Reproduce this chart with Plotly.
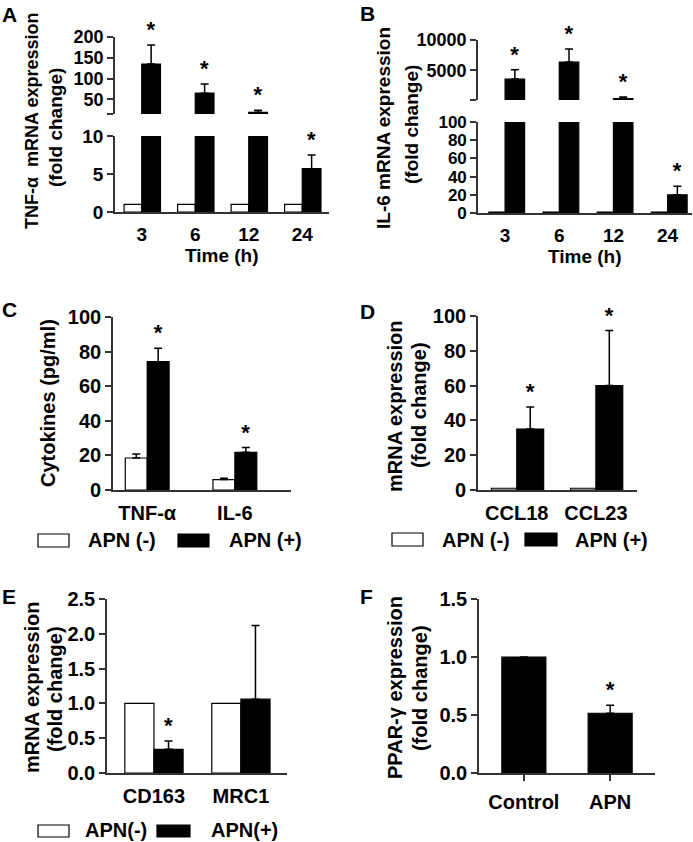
import plotly.graph_objects as go

# ---------------- data ----------------
a_times = ['3', '6', '12', '24']
a_ctrl = [1, 1, 1, 1]
a_apn = [135, 65, 19, 5.7]
a_apn_err = [46, 22, 5, 1.8]
a_sig = [True, True, True, True]

b_times = ['3', '6', '12', '24']
b_ctrl = [1, 1, 1, 1]
b_apn = [3550, 6350, 350, 20]
b_apn_err = [1550, 2150, 250, 9.5]
b_sig = [True, True, True, True]

c_cats = ['TNF-α', 'IL-6']
c_ctrl = [18.5, 6.0]
c_ctrl_err = [2.3, 0.8]
c_apn = [74.2, 21.8]
c_apn_err = [7.8, 2.7]
c_sig = [True, True]

d_cats = ['CCL18', 'CCL23']
d_ctrl = [1, 1]
d_apn = [35, 60]
d_apn_err = [12.7, 31.6]
d_sig = [True, True]

e_cats = ['CD163', 'MRC1']
e_ctrl = [1, 1]
e_apn = [0.34, 1.06]
e_apn_err = [0.12, 1.06]
e_sig = [True, False]

f_cats = ['Control', 'APN']
f_vals = [1.0, 0.515]
f_err = [0, 0.07]
f_sig = [False, True]

# ---------------- helpers ----------------
W, H = 693, 842
FONT = 'Liberation Sans, Arial, sans-serif'
AXC = '#333333'


def xd(a, b):
    return [a / W, b / W]


def yd(top, bottom):
    return [1 - bottom / H, 1 - top / H]


def px(x):
    return x / W


def py(y):
    return 1 - y / H


def bar(x, y, xa, ya, width, offset, color, err=None, floor=None):
    """Bar trace; with `floor`, bars that stay below that value are left out (upper broken segment)."""
    yy = list(y)
    ee = list(err) if err is not None else None
    if floor is not None:
        yy = [v if v >= floor else None for v in y]
        if ee is not None:
            ee = [e if v is not None else 0 for e, v in zip(ee, yy)]
    ey = dict(visible=False)
    if ee is not None:
        ey = dict(type='data', array=ee, arrayminus=[0] * len(ee), symmetric=False,
                  color='black', thickness=1.5, width=4, visible=True)
    return go.Bar(x=x, y=yy, xaxis=xa, yaxis=ya, width=width, offset=offset,
                  marker=dict(color=color, line=dict(color='black', width=1.2)),
                  error_y=ey, showlegend=False, hoverinfo='skip')


def stars(x, tops, sig, xa, ya, width, offset, keep=lambda v: True, size=22):
    """Transparent bars reaching the error-bar top, carrying the '*' label above them."""
    ys = [t if (s and keep(t)) else None for t, s in zip(tops, sig)]
    return go.Bar(x=x, y=ys, xaxis=xa, yaxis=ya, width=width, offset=offset,
                  marker=dict(color='rgba(0,0,0,0)', line=dict(width=0)),
                  text=['*' if v is not None else '' for v in ys],
                  textposition='outside', cliponaxis=False, constraintext='none',
                  textfont=dict(family=FONT, size=size, color='black', weight='bold'),
                  showlegend=False, hoverinfo='skip')


def tops(v, e):
    return [a + b for a, b in zip(v, e)]


fig = go.Figure()

# Panel A (broken axis)
A_UP_LO = 15
fig.add_trace(bar(a_times, a_ctrl, 'x', 'y', 0.33, -0.33, 'white'))
fig.add_trace(bar(a_times, a_apn, 'x', 'y', 0.35, 0.0, 'black', a_apn_err))
fig.add_trace(bar(a_times, a_ctrl, 'x2', 'y2', 0.33, -0.33, 'white', floor=A_UP_LO))
fig.add_trace(bar(a_times, a_apn, 'x2', 'y2', 0.35, 0.0, 'black', a_apn_err, floor=A_UP_LO))
at = tops(a_apn, a_apn_err)
fig.add_trace(stars(a_times, at, a_sig, 'x2', 'y2', 0.35, 0.0, keep=lambda v: v >= A_UP_LO))
fig.add_trace(stars(a_times, at, a_sig, 'x', 'y', 0.35, 0.0, keep=lambda v: v < A_UP_LO))

# Panel B (broken axis)
B_UP_LO = 100
fig.add_trace(bar(b_times, b_ctrl, 'x3', 'y3', 0.3, -0.3, 'white'))
fig.add_trace(bar(b_times, b_apn, 'x3', 'y3', 0.36, 0.0, 'black', b_apn_err))
fig.add_trace(bar(b_times, b_ctrl, 'x4', 'y4', 0.3, -0.3, 'white', floor=B_UP_LO))
fig.add_trace(bar(b_times, b_apn, 'x4', 'y4', 0.36, 0.0, 'black', b_apn_err, floor=B_UP_LO))
bt = tops(b_apn, b_apn_err)
fig.add_trace(stars(b_times, bt, b_sig, 'x4', 'y4', 0.36, 0.0, keep=lambda v: v >= B_UP_LO))
fig.add_trace(stars(b_times, bt, b_sig, 'x3', 'y3', 0.36, 0.0, keep=lambda v: v < B_UP_LO))

# Panel C
fig.add_trace(bar(c_cats, c_ctrl, 'x5', 'y5', 0.25, -0.25, 'white', c_ctrl_err))
fig.add_trace(bar(c_cats, c_apn, 'x5', 'y5', 0.25, 0.0, 'black', c_apn_err))
fig.add_trace(stars(c_cats, tops(c_apn, c_apn_err), c_sig, 'x5', 'y5', 0.25, 0.0))

# Panel D
fig.add_trace(bar(d_cats, d_ctrl, 'x6', 'y6', 0.32, -0.32, 'white'))
fig.add_trace(bar(d_cats, d_apn, 'x6', 'y6', 0.34, 0.0, 'black', d_apn_err))
fig.add_trace(stars(d_cats, tops(d_apn, d_apn_err), d_sig, 'x6', 'y6', 0.34, 0.0))

# Panel E
fig.add_trace(bar(e_cats, e_ctrl, 'x7', 'y7', 0.335, -0.335, 'white'))
fig.add_trace(bar(e_cats, e_apn, 'x7', 'y7', 0.335, 0.0, 'black', e_apn_err))
fig.add_trace(stars(e_cats, tops(e_apn, e_apn_err), e_sig, 'x7', 'y7', 0.335, 0.0))

# Panel F
fig.add_trace(bar(f_cats, f_vals, 'x8', 'y8', 0.51, -0.255, 'black', f_err))
fig.add_trace(stars(f_cats, tops(f_vals, f_err), f_sig, 'x8', 'y8', 0.51, -0.255))

# ---------------- axes ----------------
def yax(domain, rng, tickvals, ticktext=None, size=20, anchor=None):
    d = dict(domain=domain, range=rng, tickvals=tickvals, showline=True, linecolor=AXC,
             linewidth=1.6, ticks='outside', ticklen=6, tickwidth=1.6, tickcolor=AXC,
             showgrid=False, zeroline=False, fixedrange=True, automargin=False,
             tickfont=dict(family=FONT, size=size, color='black', weight='bold'))
    if ticktext is not None:
        d['ticktext'] = ticktext
    if anchor:
        d['anchor'] = anchor
    return d


def xax(domain, rng, anchor, size=20, visible=True, ticks='', standoff=4):
    return dict(domain=domain, range=rng, anchor=anchor, type='category', visible=visible,
                showline=True, linecolor=AXC, linewidth=1.6, ticks=ticks, ticklen=6,
                tickwidth=1.6, tickcolor=AXC, showgrid=False, zeroline=False, fixedrange=True,
                automargin=False, ticklabelstandoff=standoff,
                tickfont=dict(family=FONT, size=size, color='black', weight='bold'))


lay = dict(
    width=W, height=H, margin=dict(l=0, r=0, t=0, b=0, autoexpand=False),
    paper_bgcolor='white', plot_bgcolor='white', barmode='overlay', showlegend=False,
    xaxis=xax(xd(115, 329), [-0.5, 3.5], 'y', size=19),
    yaxis=yax(yd(136, 212), [0, 10], [0, 5, 10], size=19, anchor='x'),
    xaxis2=xax(xd(115, 329), [-0.5, 3.5], 'y2', visible=False),
    yaxis2=yax(yd(37, 114), [A_UP_LO, 200], [A_UP_LO, 50, 100, 150, 200],
               ['', '50', '100', '150', '200'], size=18, anchor='x2'),
    xaxis3=xax(xd(478, 692), [-0.5, 3.45], 'y3', size=19),
    yaxis3=yax(yd(122, 213), [0, 100], [0, 20, 40, 60, 80, 100], size=17, anchor='x3'),
    xaxis4=xax(xd(478, 692), [-0.5, 3.45], 'y4', visible=False),
    yaxis4=yax(yd(40, 100), [B_UP_LO, 10000], [B_UP_LO, 5000, 10000],
               ['', '5000', '10000'], size=18, anchor='x4'),
    xaxis5=xax(xd(113, 291), [-0.39, 1.64], 'y5'),
    yaxis5=yax(yd(317, 490), [0, 100], [0, 20, 40, 60, 80, 100], anchor='x5'),
    xaxis6=xax(xd(478, 637), [-0.49, 1.52], 'y6'),
    yaxis6=yax(yd(316, 490), [0, 100], [0, 20, 40, 60, 80, 100], anchor='x6'),
    xaxis7=xax(xd(107, 287), [-0.54, 1.53], 'y7'),
    yaxis7=yax(yd(599, 773), [0, 2.5], [0, 0.5, 1, 1.5, 2, 2.5],
               ['0.0', '0.5', '1.0', '1.5', '2.0', '2.5'], anchor='x7'),
    xaxis8=xax(xd(479, 655), [-0.52, 1.52], 'y8', ticks='outside'),
    yaxis8=yax(yd(599, 773), [0, 1.5], [0, 0.5, 1, 1.5], ['0.0', '0.5', '1.0', '1.5'],
               anchor='x8'),
)
fig.update_layout(**lay)

# ---------------- text ----------------
ann = []


def text(x, y, s, size=20, angle=0, xanchor='center'):
    ann.append(dict(x=px(x), y=py(y), xref='paper', yref='paper', text=s, showarrow=False,
                    textangle=angle, xanchor=xanchor, yanchor='middle',
                    font=dict(family=FONT, size=size, color='black', weight='bold')))


# panel letters
for L, x, y in (('A', 9, 14), ('B', 367, 13), ('C', 9, 309), ('D', 367, 311),
                ('E', 9, 596), ('F', 366, 596)):
    text(x, y, L, size=21)

# y-axis titles
text(32, 121, 'TNF-α  mRNA expression', 18, -90)
text(55, 128, '(fold change)', 19, -90)
text(383, 128, 'IL-6 mRNA expression', 19, -90)
text(412, 125, '(fold change)', 19, -90)
text(48, 403, 'Cytokines (pg/ml)', 20, -90)
text(395, 406, 'mRNA expression', 20, -90)
text(419, 405, '(fold change)', 20, -90)
text(32, 687, 'mRNA expression', 20, -90)
text(55, 689, '(fold change)', 20, -90)
text(395, 688, 'PPAR-γ expression', 20, -90)
text(420, 688, '(fold change)', 20, -90)

# x-axis titles
text(222, 255, 'Time (h)', 19)
text(585, 256, 'Time (h)', 19)

# legends
shapes = []


def swatch(x0, x1, y0, y1, fill):
    shapes.append(dict(type='rect', xref='paper', yref='paper', x0=px(x0), x1=px(x1),
                       y0=py(y1), y1=py(y0), fillcolor=fill,
                       line=dict(color='black', width=1.2)))


swatch(38, 69, 534, 547, 'white'); text(86, 540, 'APN (-)', 20, xanchor='left')
swatch(178, 209, 534, 547, 'black'); text(227, 540, 'APN (+)', 20, xanchor='left')
swatch(392, 423, 533, 546, 'white'); text(440, 540, 'APN (-)', 20, xanchor='left')
swatch(525, 557, 533, 546, 'black'); text(573, 540, 'APN (+)', 20, xanchor='left')
swatch(38, 69, 825, 837, 'white'); text(83, 830, 'APN(-)', 20, xanchor='left')
swatch(157, 190, 825, 837, 'black'); text(209, 830, 'APN(+)', 20, xanchor='left')

fig.update_layout(annotations=ann, shapes=shapes)

fig.write_html('out.html', config={'displayModeBar': False},
               post_script="document.body.style.margin='0';document.body.style.overflow='hidden';")
